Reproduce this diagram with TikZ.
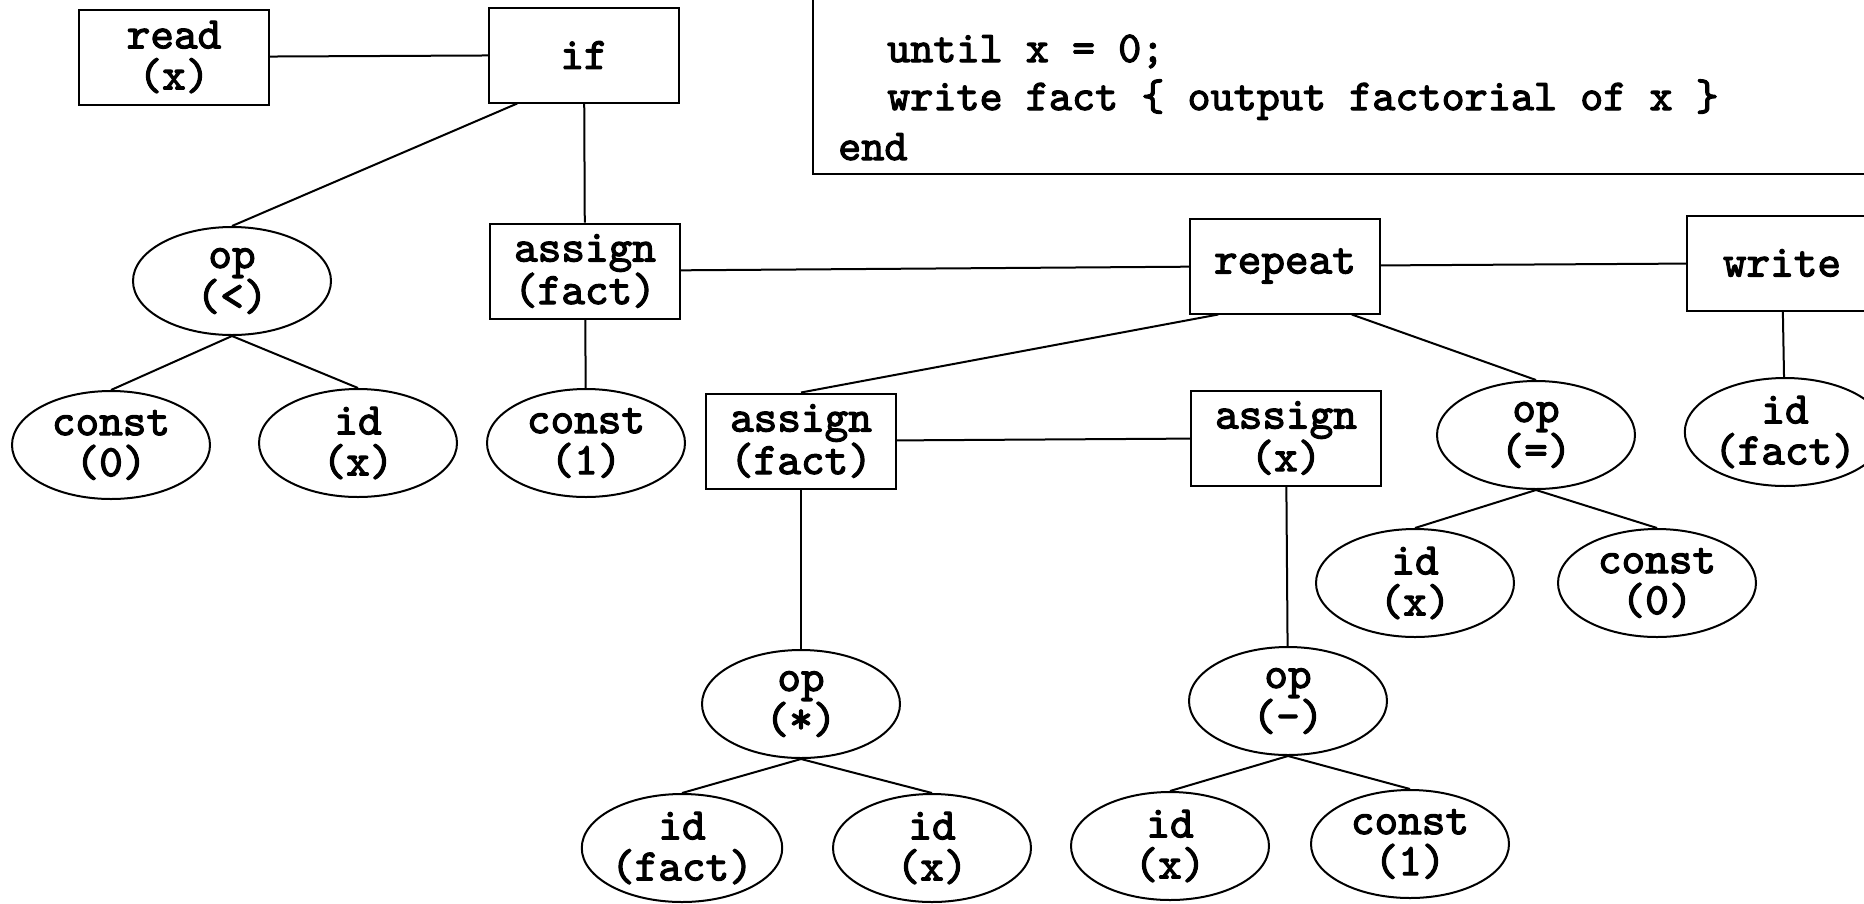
\documentclass[tikz,border=0pt]{standalone}
\usepackage{fontspec}
\newfontfamily\treefont[FakeBold=2.5]{lmmono10-regular.otf}
\usetikzlibrary{shapes.geometric}
\tikzset{
    stmt/.style={rectangle,draw,line width=2pt,minimum width=190pt,minimum height=95pt,align=center,inner sep=0pt},
    expr/.style={ellipse,draw,line width=2pt,minimum width=198pt,minimum height=108pt,align=center,inner sep=0pt},
    edge/.style={line width=2pt},
    code/.style={anchor=base west,inner sep=0pt,font=\treefont\fontsize{44}{48}\selectfont}
}

\begin{document}
\begin{tikzpicture}[x=1pt,y=-1pt,font=\treefont\fontsize{45}{41}\selectfont]
\useasboundingbox (0,0) rectangle (1864,903);
\clip (0,0) rectangle (1864,903);
                        % program text
                            \draw[line width=2pt] (813,-10) rectangle (1880,174);
                            \node[code] (line1) at (887,62) {until x = 0;};
                            \node[code] (line2) at (887,110) {write fact \{ output factorial of x \}};
                            \node[code] (line3) at (838,160) {end};
                        % vertices
                            \node[stmt] (read) at (174,57) {read\\(x)};
                            \node[stmt] (if) at (584,55) {if};
                            \node[expr] (opa) at (232,281) {op\\(<)};
                            \node[stmt] (asg1) at (585,271) {assign\\(fact)};
                            \node[expr] (consta) at (111,445) {const\\(0)};
                            \node[expr] (ida) at (358,443) {id\\(x)};
                            \node[expr] (constb) at (586,443) {const\\(1)};
                            \node[stmt] (repeat) at (1285,266) {repeat};
                            \node[stmt] (write) at (1782,263) {write};
                            \node[stmt] (asg2) at (801,441) {assign\\(fact)};
                            \node[stmt] (asg3) at (1286,438) {assign\\(x)};
                            \node[expr] (opb) at (1536,435) {op\\(=)};
                            \node[expr] (idf) at (1785,432) {id\\(fact)};
                            \node[expr] (idb) at (1415,583) {id\\(x)};
                            \node[expr] (constc) at (1657,583) {const\\(0)};
                            \node[expr] (opc) at (801,704) {op\\(*)};
                            \node[expr] (opd) at (1288,701) {op\\(-)};
                            \node[expr] (idc) at (682,848) {id\\(fact)};
                            \node[expr] (idd) at (932,848) {id\\(x)};
                            \node[expr] (ide) at (1170,846) {id\\(x)};
                            \node[expr] (constd) at (1410,844) {const\\(1)};
                        % edges
                        \draw[edge] (read) -- (if);
                        \draw[edge] (if.216) -- (opa.north);
                        \draw[edge] (if) -- (asg1);
                        \draw[edge] (opa.south) -- (consta.north);
                        \draw[edge] (opa.south) -- (ida.north);
                        \draw[edge] (asg1) -- (constb);
                        \draw[edge] (asg1) -- (repeat);
                        \draw[edge] (repeat) -- (write);
                        \draw[edge] (write) -- (idf);
                        \draw[edge] (repeat.216) -- (asg2.north);
                        \draw[edge] (repeat.324) -- (opb.north);
                        \draw[edge] (asg2) -- (asg3);
                        \draw[edge] (asg2) -- (opc);
                        \draw[edge] (asg3) -- (opd);
                        \draw[edge] (opb.south) -- (idb.north);
                        \draw[edge] (opb.south) -- (constc.north);
                        \draw[edge] (opc.south) -- (idc.north);
                        \draw[edge] (opc.south) -- (idd.north);
                        \draw[edge] (opd.south) -- (ide.north);
                        \draw[edge] (opd.south) -- (constd.north);
\end{tikzpicture}
\end{document}
